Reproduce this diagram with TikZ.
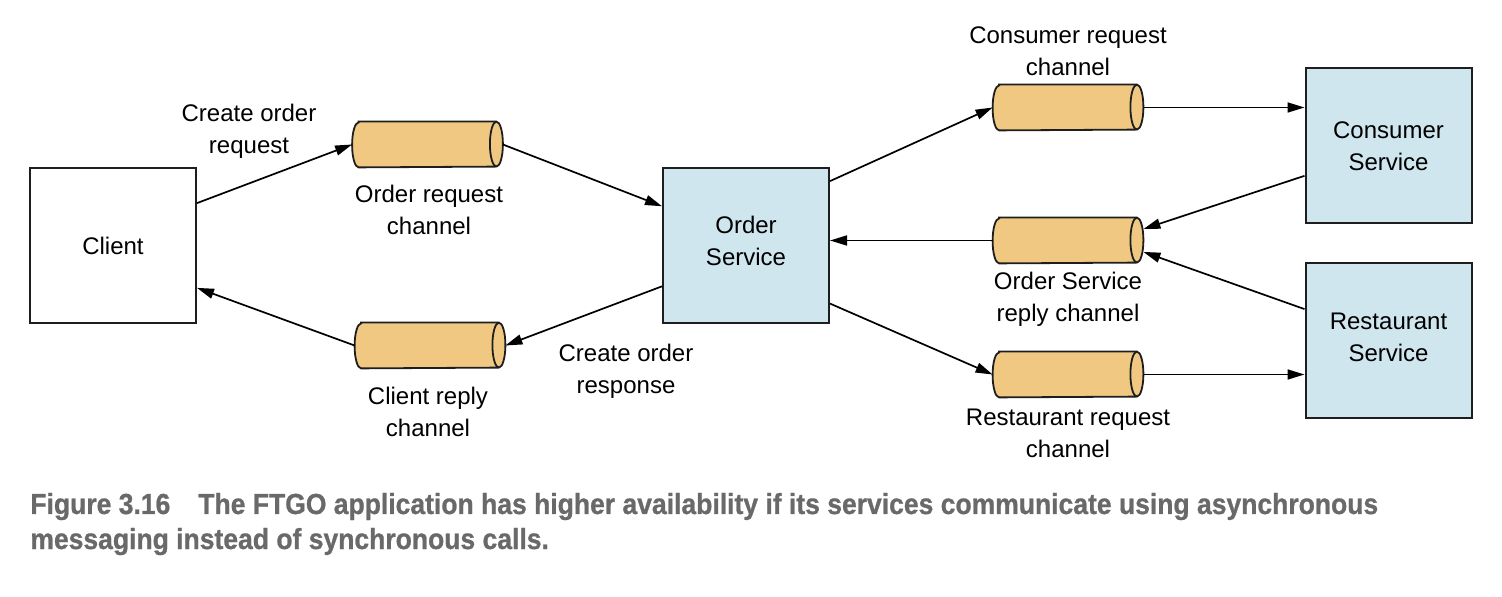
\documentclass[tikz,border=0pt]{standalone}
\usepackage{fontspec}
\setmainfont{Liberation Sans}
\newfontfamily\capfont[FakeStretch=0.914,FakeBold=0.8]{Liberation Sans Bold}
\usetikzlibrary{arrows.meta,calc}
\definecolor{chanfill}{RGB}{240,200,130}
\definecolor{svcfill}{RGB}{207,230,239}
\definecolor{capgray}{RGB}{105,105,105}
\definecolor{edge}{RGB}{30,30,30}
\newcommand{\drawcyl}[1]{%
  \draw[edge, line width=0.9pt, fill=chanfill]
    ([xshift=3.25pt]#1.north west) -- ([xshift=-3.25pt]#1.north east)
    arc[start angle=90, end angle=-90, x radius=3.25pt, y radius=11.25pt]
    -- ([xshift=3.25pt]#1.south west)
    arc[start angle=270, end angle=90, x radius=3.25pt, y radius=11.25pt] -- cycle;
  \draw[edge, line width=0.9pt]
    ([xshift=-3.25pt]#1.north east)
    arc[start angle=90, end angle=270, x radius=3.25pt, y radius=11.25pt];
}
\begin{document}
\begin{tikzpicture}[x=0.5pt,y=-0.5pt,
  svc/.style={draw=edge, line width=1pt, minimum width=83pt, minimum height=77.5pt, inner sep=0pt, align=center, font=\fontsize{12}{16}\selectfont},
  chan/.style={minimum width=75pt, minimum height=22.5pt, inner sep=0pt},
  lbl/.style={align=center, inner sep=0pt, font=\fontsize{12}{16}\selectfont},
  conn/.style={line width=0.85pt, -{Triangle[length=8.5pt,width=5pt]}},
  captext/.style={anchor=base west, inner sep=0pt, text=capgray, font=\capfont\fontsize{14.5}{17}\selectfont}
]
\useasboundingbox (0,0) rectangle (1502,597);
\fill[white] (0,0) rectangle (1502,597);

% boxes
\node[svc, fill=white] (client) at (113,245.5) {Client};
\node[svc, fill=svcfill] (os) at (746,245.5) {Order\\Service\rule[-5pt]{0pt}{0pt}};
\node[svc, fill=svcfill] (cs) at (1388.5,146) {Consumer\\Service};
\node[svc, fill=svcfill] (rs) at (1388.5,340.5) {Restaurant\\Service\rule[-3pt]{0pt}{0pt}};

% channels
\node[chan] (orq) at (427.5,144.5) {};
\node[chan] (crc) at (430,345.5) {};
\node[chan] (consreq) at (1068,107.5) {};
\node[chan] (osr) at (1068,240.5) {};
\node[chan] (rrc) at (1068,374.5) {};
\drawcyl{orq}
\drawcyl{crc}
\drawcyl{consreq}
\drawcyl{osr}
\drawcyl{rrc}

% labels
\node[lbl] (l1) at (249,131) {Create order\\request};
\node[lbl] (l2) at (429,210) {Order request\\channel};
\node[lbl] (l3) at (428,412) {Client reply\\channel};
\node[lbl] (l4) at (626,371) {Create order\\response};
\node[lbl] (l5) at (1068,51) {Consumer request\\channel};
\node[lbl] (l6) at (1068,299) {Order Service\\reply channel};
\node[lbl] (l7) at (1068,433) {Restaurant request\\channel};

% connectors
\draw[conn] ($(client.north east)!0.23!(client.south east)$) -- (orq.west);
\draw[conn] (orq.east) -- ($(os.north west)!0.25!(os.south west)$);
\draw[conn] ($(os.north west)!0.76!(os.south west)$) -- (crc.east);
\draw[conn] (crc.west) -- ($(client.north east)!0.77!(client.south east)$);
\draw[conn] ($(os.north east)!0.09!(os.south east)$) -- (consreq.west);
\draw[conn] (consreq.east) -- (consreq.east -| cs.west);
\draw[conn] ($(cs.north west)!0.69!(cs.south west)$) -- ($(osr.north east)!0.25!(osr.south east)$);
\draw[conn] ($(rs.north west)!0.30!(rs.south west)$) -- ($(osr.north east)!0.75!(osr.south east)$);
\draw[conn] (osr.west) -- (osr.west -| os.east);
\draw[conn] ($(os.north east)!0.87!(os.south east)$) -- (rrc.west);
\draw[conn] (rrc.east) -- (rrc.east -| rs.west);

% caption
\node[captext] (cap1) at (30,514) {Figure 3.16\hspace{14pt}The FTGO application has higher availability if its services communicate using asynchronous};
\node[captext] (cap2) at (30,549) {messaging instead of synchronous calls.};
\end{tikzpicture}
\end{document}
